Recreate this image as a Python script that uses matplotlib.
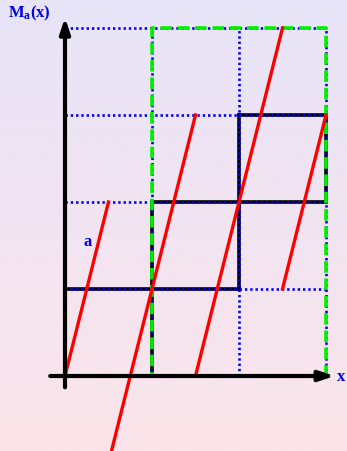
import numpy as np
import matplotlib
matplotlib.use("Agg")
import matplotlib.pyplot as plt
from matplotlib.colors import LinearSegmentedColormap

plt.rcParams["mathtext.fontset"] = "custom"
plt.rcParams["mathtext.rm"] = "Liberation Serif:bold"
plt.rcParams["mathtext.bf"] = "Liberation Serif:bold"
plt.rcParams["mathtext.it"] = "Liberation Serif:bold"

# Grid of unit cells
grid_x = [0, 1, 2, 3]
grid_y = [1, 2, 3, 4]

# Staircase segments of the black boxes: (x0, y0, x1, y1)
box_segments = [
    (0, 1, 2, 1),
    (1, 0, 1, 2),
    (1, 2, 3, 2),
    (2, 1, 2, 3),
    (2, 3, 3, 3),
    (3, 2, 3, 3),
]

# Window shown in green dashes
window_x = [1, 3]
window_y = [0, 4]

# Red branches: slope a and the x-offset and y-range of each branch
slope = 4.0
branch_offsets = [0.0, 0.75, 1.5, 2.25]
branch_y_start = [0.0, -1.0, 0.0, 1.0]
branch_y_end = [2.0, 3.0, 4.0, 3.0]

fig = plt.figure(figsize=(3.47, 4.52), dpi=100)
ax = fig.add_axes([0, 0, 1, 1])
x0, x1 = -65 / 87, (347 - 65) / 87
y0, y1 = (377 - 452) / 87, 377 / 87
ax.axis("off")

# Background gradient, lavender at the top to pink at the bottom
cmap = LinearSegmentedColormap.from_list("bg", ["#e8e4f8", "#fbe4ea"])
grad = np.linspace(0, 1, 256).reshape(-1, 1)
ax.imshow(grad, cmap=cmap, aspect="auto", origin="upper",
          extent=[x0, x1, y0, y1], zorder=0)
ax.set_xlim(x0, x1)
ax.set_ylim(y0, y1)

# Black boxes
for (a0, b0, a1, b1) in box_segments:
    ax.plot([a0, a1], [b0, b1], color="black", lw=2.6, zorder=2,
            solid_capstyle="projecting")

# Blue dotted grid
dot = dict(color="#0000ff", lw=1.9, linestyle=(0, (0.9, 1.1)), zorder=3)
for gy in grid_y:
    ax.plot([0, 3], [gy, gy], **dot)
for gx in grid_x:
    ax.plot([gx, gx], [0, 4], **dot)

# Green dashed window
dash = dict(color="#00ee00", lw=2.6, linestyle=(0, (3.2, 1.6)), zorder=4)
ax.plot([window_x[0], window_x[1], window_x[1], window_x[0], window_x[0]],
        [window_y[0], window_y[0], window_y[1], window_y[1], window_y[0]], **dash)

# Red branches
for off, ys, ye in zip(branch_offsets, branch_y_start, branch_y_end):
    ys_arr = np.array([ys, ye])
    ax.plot(off + ys_arr / slope, ys_arr, color="red", lw=2.4, zorder=5)

# Axes with arrow heads
ax.annotate("", xy=(3.1, 0), xytext=(-0.17, 0),
            arrowprops=dict(arrowstyle="-|>,head_length=0.9,head_width=0.3",
                            color="black", lw=3.0, shrinkA=0, shrinkB=0),
            zorder=6)
ax.annotate("", xy=(0, 4.12), xytext=(0, -0.13),
            arrowprops=dict(arrowstyle="-|>,head_length=0.9,head_width=0.3",
                            color="black", lw=3.0, shrinkA=0, shrinkB=0),
            zorder=6)

font = dict(family="Liberation Serif", weight="bold", color="#0000ee")
ax.text(3.13, 0, "x", fontsize=12, ha="left", va="center", **font)
ax.text(-0.66, 4.18, r"$\mathbf{M_a(x)}$", fontsize=12, ha="left", va="center",
        **font)
ax.text(0.26, 1.55, "a", fontsize=12, ha="center", va="center", **font)

fig.savefig("out.png", dpi=100)
